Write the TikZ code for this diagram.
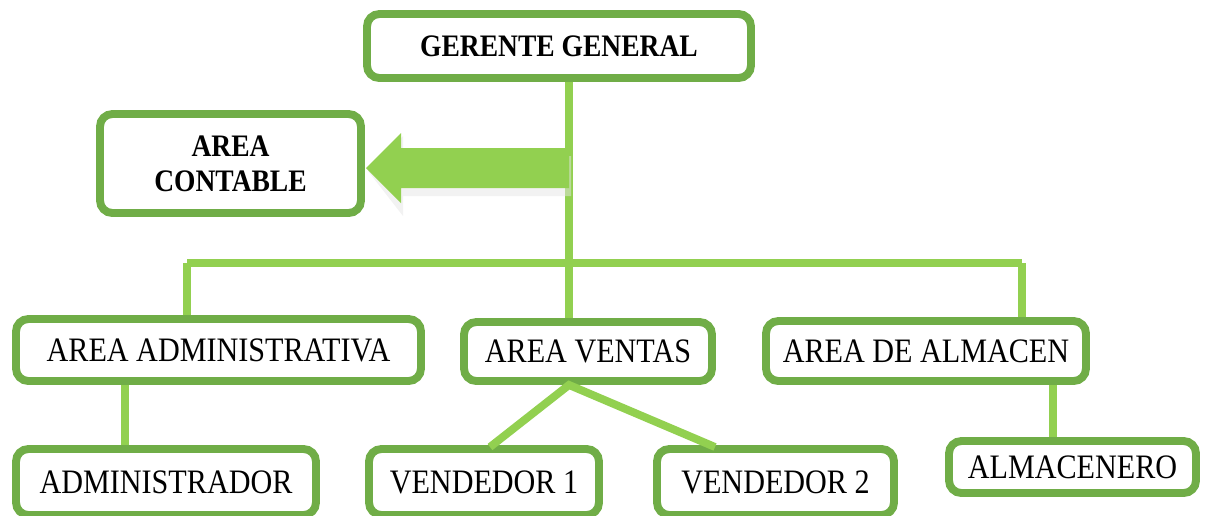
\documentclass[tikz,border=0pt]{standalone}
\usepackage{fontspec}
\setmainfont{Liberation Serif}[FakeStretch=0.88]
\definecolor{boxgreen}{HTML}{70AD47}
\definecolor{linegreen}{HTML}{92D050}
\tikzset{
  orgbox/.style={draw=boxgreen, line width=4.5pt, rounded corners=7pt, fill=white,
    inner sep=0pt, align=center, font=\fontsize{19.5}{20}\selectfont},
  headbox/.style={orgbox, font=\fontsize{17.8}{20}\selectfont\bfseries},
  link/.style={draw=linegreen, line width=4.5pt},
}
\begin{document}
\begin{tikzpicture}[x=0.02cm,y=-0.02cm]
\useasboundingbox (0,0) rectangle (1208,515);
% Fixed points for the connectors
\coordinate (trunk) at (569,263);
\coordinate (barL) at (187,263);
\coordinate (barR) at (1022,263);
\coordinate (tip) at (366,168);
\coordinate (v1top) at (490,447);
\coordinate (v2top) at (715,447);
% Top boxes
\node[headbox, minimum width=7.68cm, minimum height=1.28cm] (gerente) at (559,46) {GERENTE GENERAL};
\node[headbox, minimum width=5.22cm, minimum height=1.98cm] (contable) at (230.5,163.5) {AREA\\CONTABLE};
% Second level
\node[orgbox, minimum width=8.1cm, minimum height=1.24cm] (admin) at (218.5,350) {AREA ADMINISTRATIVA};
\node[orgbox, minimum width=4.96cm, minimum height=1.18cm] (ventas) at (588,351.5) {AREA VENTAS};
\node[orgbox, minimum width=6.4cm, minimum height=1.2cm] (almacen) at (926,351) {AREA DE ALMACEN};
% Third level
\node[orgbox, minimum width=6cm, minimum height=1.32cm] (administrador) at (166,482) {ADMINISTRADOR};
\node[orgbox, minimum width=4.6cm, minimum height=1.32cm] (vendedor1) at (484,482) {VENDEDOR 1};
\node[orgbox, minimum width=4.74cm, minimum height=1.32cm] (vendedor2) at (775.5,482) {VENDEDOR 2};
\node[orgbox, minimum width=4.94cm, minimum height=1.04cm] (almacenero) at (1072.5,467) {ALMACENERO};
% Lines between boxes
\draw[link] (gerente.south -| trunk) -- (ventas.north -| trunk);
\draw[link] (barL) -- (barR);
\draw[link] (barL) -- (admin.north -| barL);
\draw[link] (barR) -- (almacen.north -| barR);
\draw[link] (admin.south -| 125,0) -- (administrador.north -| 125,0);
\draw[link] (almacen.south -| 1053,0) -- (almacenero.north -| 1053,0);
\draw[link] (v1top) -- (ventas.south -| trunk) -- (v2top);
% Big arrow to contable
\fill[black!10, opacity=0.5] ([shift={(2,3)}]tip) -- ++(35,-35) -- ++(0,20) -- ++(168,0)
  -- ++(0,40) -- ++(-168,0) -- ++(0,20) -- cycle;
\fill[linegreen] (tip) -- ++(35,-35) -- ++(0,15) -- (trunk |- 0,148) -- (trunk |- 0,188)
  -- ++(-168,0) -- ++(0,15) -- cycle;
\end{tikzpicture}
\end{document}
